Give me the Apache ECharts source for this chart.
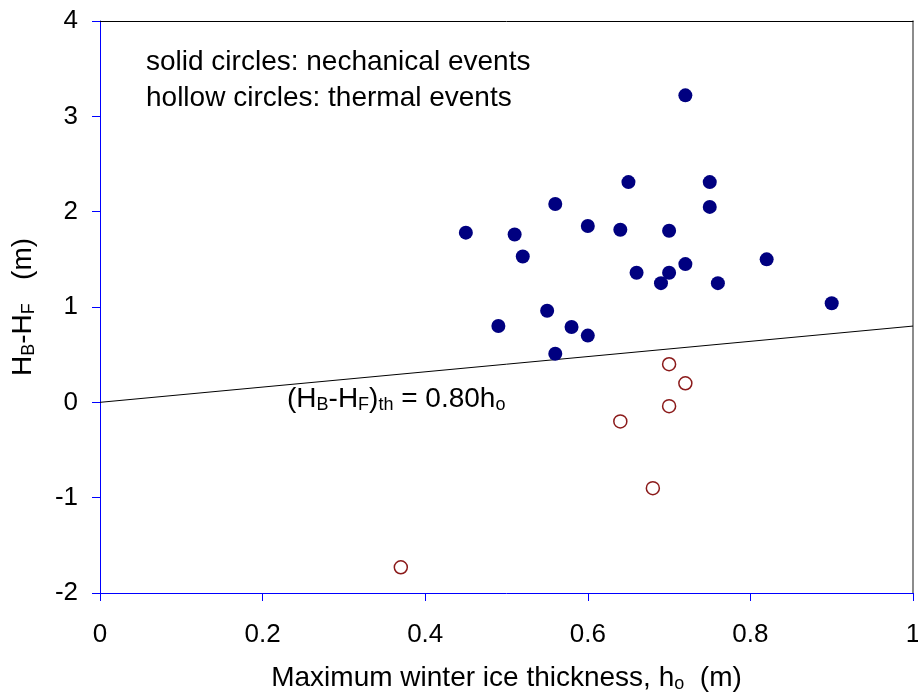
<!DOCTYPE html>
<html>
<head>
<meta charset="utf-8">
<script src="https://cdn.jsdelivr.net/npm/echarts@6/dist/echarts.min.js"></script>
<style>
  html, body { margin: 0; padding: 0; background: #fff; }
  #main { width: 918px; height: 698px; }
</style>
</head>
<body>
<div id="main"></div>
<script>
// mechanical events (solid circles)
var mechX = [0.45, 0.49, 0.51, 0.52, 0.55, 0.56, 0.56, 0.58, 0.60, 0.60, 0.64, 0.65, 0.66, 0.69, 0.70, 0.70, 0.72, 0.72, 0.75, 0.75, 0.76, 0.82, 0.90];
var mechY = [1.78, 0.80, 1.76, 1.53, 0.96, 2.08, 0.51, 0.79, 1.85, 0.70, 1.81, 2.31, 1.36, 1.25, 1.80, 1.36, 3.22, 1.45, 2.31, 2.05, 1.25, 1.50, 1.04];
// thermal events (hollow circles)
var thermX = [0.37, 0.64, 0.68, 0.70, 0.70, 0.72];
var thermY = [-1.73, -0.20, -0.90, 0.40, -0.04, 0.20];
// threshold line (HB-HF)th = 0.80 ho
var lineX = [0, 1];
var lineY = [0, 0.80];

function pairs(xs, ys) {
    var out = [];
    for (var i = 0; i < xs.length; i++) out.push([xs[i], ys[i]]);
    return out;
}

var font = '"Liberation Sans", Arial, sans-serif';
var subRich = {
    n: { fontSize: 28, fontFamily: font, color: '#000', lineHeight: 30 },
    s: { fontSize: 18, fontFamily: font, color: '#000', lineHeight: 8, verticalAlign: 'bottom' }
};

var myChart = echarts.init(document.getElementById('main'));

var option = {
    animation: false,
    backgroundColor: '#fff',
    grid: {
        left: 100,
        right: 5,
        top: 21,
        bottom: 105,
        outerBoundsMode: 'none',
        containLabel: false
    },
    xAxis: [
        {
            type: 'value',
            min: 0,
            max: 1,
            interval: 0.2,
            name: '{n|Maximum winter ice thickness, h}{s|o}{n|  (m)}',
            nameLocation: 'middle',
            nameGap: 70,
            nameTextStyle: { rich: subRich },
            axisLine: { show: true, onZero: false, lineStyle: { color: '#0000ff', width: 1 } },
            axisTick: { show: true, length: 8, lineStyle: { color: '#0000ff' } },
            axisLabel: { fontSize: 26, fontFamily: font, color: '#000', margin: 29 },
            splitLine: { show: false }
        },
        {
            type: 'value',
            position: 'top',
            min: 0,
            max: 1,
            axisLine: { show: true, onZero: false, lineStyle: { color: '#000', width: 1 } },
            axisTick: { show: false },
            axisLabel: { show: false },
            splitLine: { show: false }
        }
    ],
    yAxis: [
        {
            type: 'value',
            min: -2,
            max: 4,
            interval: 1,
            name: '{n|H}{s|B}{n|-H}{s|F}{n|   (m)}',
            nameLocation: 'middle',
            nameGap: 62,
            nameRotate: 90,
            nameTextStyle: { rich: subRich },
            axisLine: { show: true, onZero: false, lineStyle: { color: '#0000ff', width: 1 } },
            axisTick: { show: true, length: 8, lineStyle: { color: '#0000ff' } },
            axisLabel: { fontSize: 26, fontFamily: font, color: '#000', margin: 22 },
            splitLine: { show: false }
        },
        {
            type: 'value',
            position: 'right',
            min: -2,
            max: 4,
            axisLine: { show: true, onZero: false, lineStyle: { color: '#666', width: 1.5 } },
            axisTick: { show: false },
            axisLabel: { show: false },
            splitLine: { show: false }
        }
    ],
    graphic: [
        {
            type: 'text',
            left: 146,
            top: 44,
            style: {
                text: 'solid circles: nechanical events\nhollow circles: thermal events',
                font: '28px ' + font,
                fill: '#000',
                lineHeight: 36
            }
        },
        {
            type: 'text',
            left: 287,
            top: 385,
            style: {
                text: '{n|(H}{s|B}{n|-H}{s|F}{n|)}{s|th}{n| = 0.80h}{s|o}',
                rich: subRich
            }
        }
    ],
    series: [
        {
            type: 'line',
            data: pairs(lineX, lineY),
            showSymbol: false,
            symbol: 'none',
            lineStyle: { color: '#000', width: 1 },
            z: 2
        },
        {
            type: 'scatter',
            data: pairs(thermX, thermY),
            symbol: 'circle',
            symbolSize: 13,
            itemStyle: { color: '#fff', borderColor: '#8b1a1a', borderWidth: 1.5, opacity: 1 },
            z: 3
        },
        {
            type: 'scatter',
            data: pairs(mechX, mechY),
            symbol: 'circle',
            symbolSize: 14,
            itemStyle: { color: '#000080', opacity: 1 },
            z: 4
        }
    ]
};

if (option && typeof option === "object") {
    myChart.setOption(option, true);
}
</script>
</body>
</html>
